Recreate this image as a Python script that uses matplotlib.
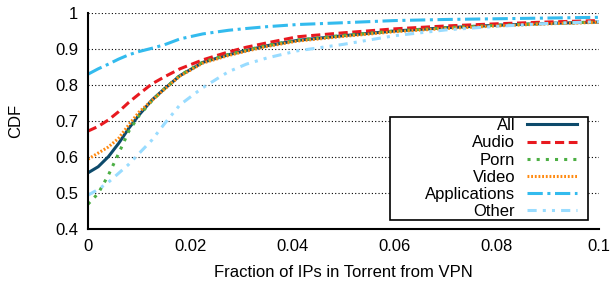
import matplotlib
matplotlib.use('Agg')
import matplotlib.pyplot as plt
from matplotlib.patches import Rectangle

plt.rcParams['font.family'] = ['Liberation Sans', 'DejaVu Sans']

x_vals = [0, 0.002, 0.004, 0.006, 0.008, 0.01, 0.0125, 0.015, 0.018, 0.0225, 0.0275,
          0.031, 0.035, 0.041, 0.05, 0.06, 0.07, 0.08, 0.09, 0.1]

cdf_all = [0.556, 0.573, 0.601, 0.638, 0.68, 0.717, 0.758, 0.79, 0.826, 0.863, 0.884,
           0.896, 0.909, 0.924, 0.937, 0.95, 0.959, 0.966, 0.971, 0.975]
cdf_audio = [0.672, 0.685, 0.703, 0.726, 0.752, 0.775, 0.803, 0.823, 0.845, 0.87, 0.892,
             0.905, 0.917, 0.934, 0.945, 0.956, 0.964, 0.97, 0.975, 0.979]
cdf_porn = [0.469, 0.499, 0.55, 0.61, 0.672, 0.715, 0.756, 0.79, 0.827, 0.864, 0.885,
            0.897, 0.91, 0.925, 0.938, 0.95, 0.959, 0.966, 0.971, 0.975]
cdf_video = [0.594, 0.611, 0.628, 0.652, 0.69, 0.725, 0.757, 0.789, 0.825, 0.861, 0.882,
             0.894, 0.907, 0.922, 0.935, 0.948, 0.957, 0.964, 0.97, 0.974]
cdf_apps = [0.83, 0.845, 0.858, 0.872, 0.884, 0.893, 0.902, 0.912, 0.928, 0.942, 0.952,
            0.957, 0.962, 0.968, 0.973, 0.979, 0.982, 0.984, 0.986, 0.988]
cdf_other = [0.494, 0.51, 0.53, 0.555, 0.58, 0.61, 0.647, 0.693, 0.745, 0.793, 0.837,
             0.858, 0.875, 0.895, 0.913, 0.937, 0.953, 0.963, 0.971, 0.976]

labels = ['All', 'Audio', 'Porn', 'Video', 'Applications', 'Other']
colors = ['#0d4a6b', '#e8191f', '#4caf44', '#ff8a10', '#33bbee', '#99dcff']
styles = ['-', (0, (3, 1.5)), (0, (1, 2)), (0, (0.6, 0.6)), (0, (5, 1.5, 1, 1.5)),
          (0, (3, 2, 1, 2, 1, 2))]

fig = plt.figure(figsize=(6.13, 2.87), dpi=100)
ax = fig.add_axes([88 / 613, 1 - 229 / 287, 511 / 613, 216 / 287])

series = [cdf_all, cdf_audio, cdf_porn, cdf_video, cdf_apps, cdf_other]
for ys, lab, c, ls in zip(series, labels, colors, styles):
    ax.plot(x_vals, ys, color=c, linestyle=ls, linewidth=2.2, label=lab)

ax.set_xlim(0, 0.1)
ax.set_ylim(0.4, 1.0)
ax.set_xticks([0, 0.02, 0.04, 0.06, 0.08, 0.1])
ax.set_xticklabels(['0', '0.02', '0.04', '0.06', '0.08', '0.1'])
ax.set_yticks([0.4, 0.5, 0.6, 0.7, 0.8, 0.9, 1.0])
ax.set_yticklabels(['0.4', '0.5', '0.6', '0.7', '0.8', '0.9', '1'])
ax.tick_params(length=0, labelsize=12, pad=7)
ax.yaxis.grid(True, linestyle=(0, (1, 2)), color='black', linewidth=0.8)
ax.spines['top'].set_visible(False)
ax.spines['right'].set_visible(False)
ax.spines['left'].set_linewidth(1.5)
ax.spines['bottom'].set_linewidth(1.5)

ax.set_xlabel('Fraction of IPs in Torrent from VPN', fontsize=12, labelpad=8)
ax.set_ylabel('CDF', fontsize=12, labelpad=23)

# legend box drawn separately (it is wider than its contents)
box = Rectangle((0.591, 0.042), 0.387, 0.477, transform=ax.transAxes,
                facecolor='white', edgecolor='black', linewidth=1.2, zorder=4)
ax.add_patch(box)
leg = ax.legend(loc='lower right', bbox_to_anchor=(0.957, 0.046), markerfirst=False,
                fontsize=12, frameon=False, handlelength=3, handletextpad=0.7,
                labelspacing=0.13, borderpad=0, borderaxespad=0)
leg.set_zorder(5)

fig.savefig('out.png', dpi=100)
